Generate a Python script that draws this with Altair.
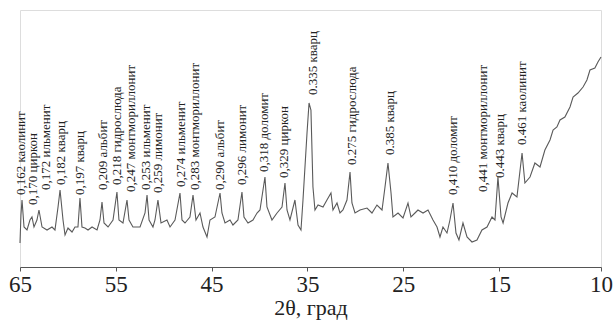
import altair as alt
import pandas as pd

# Diffractogram trace (2θ in degrees, intensity in arbitrary units)
two_theta = [
    65.00, 64.90, 64.79, 64.58, 64.27, 63.96, 63.75, 63.54, 63.23, 63.02,
    62.70, 62.18, 61.66, 61.35, 61.03, 60.82, 60.51, 60.30, 59.99, 59.57,
    59.26, 58.95, 58.74, 58.53, 58.22, 57.90, 57.48, 56.96, 56.65, 56.44,
    56.23, 55.81, 55.29, 54.88, 54.67, 54.25, 53.83, 53.62, 53.21, 52.47,
    51.95, 51.74, 51.53, 51.12,
    50.91, 50.60, 50.28, 49.66, 49.34, 48.82, 48.30, 48.09, 47.78, 47.26,
    46.94, 46.63, 46.21, 45.90, 45.48, 45.17, 44.65, 44.12, 43.92, 43.60,
    43.08, 42.77, 42.25, 41.83, 41.62, 41.20, 40.68, 40.26, 39.95, 39.43,
    39.22, 38.70, 38.17, 37.65, 37.34, 37.13, 36.82, 36.30, 35.98, 35.67,
    35.46, 35.04, 34.83, 34.63, 34.42, 34.21, 33.89, 33.37, 32.96, 32.54,
    32.33, 31.91, 31.60, 31.29, 30.87, 30.55, 30.35, 30.03, 29.51, 28.78,
    28.26, 27.74, 27.21, 26.90, 26.59, 26.27, 26.07, 25.54, 25.02, 24.50,
    24.19, 23.77, 23.46, 22.93, 22.41, 21.89, 21.47, 21.16, 20.85, 20.43,
    20.12, 19.80, 19.49, 19.18, 18.76, 18.34, 17.82, 17.30, 16.78, 16.25,
    15.73, 15.42, 15.11, 14.90, 14.80, 14.56, 14.36, 14.12, 13.87, 13.73,
    13.48, 13.24, 12.99, 12.75, 12.50, 12.35, 12.16, 12.01, 11.77, 11.52,
    11.37, 11.13, 10.88, 10.69, 10.54, 10.30, 10.15, 10.00,
]
intensity = [
    24, 52, 67, 40, 37, 47, 50, 40, 47, 57,
    40, 37, 40, 37, 60, 77, 47, 32, 39, 35,
    40, 40, 69, 40, 39, 37, 40, 37, 47, 65,
    44, 40, 47, 75, 47, 44, 67, 47, 40, 40,
    54, 72, 47, 40,
    47, 67, 44, 47, 40, 47, 74, 47, 44, 50,
    72, 47, 54, 40, 30, 47, 50, 74, 54, 44,
    47, 42, 47, 75, 50, 44, 47, 54, 57, 90,
    60, 47, 54, 60, 84, 57, 47, 67, 42, 37,
    67, 134, 164, 157, 80, 57, 62, 60, 67, 74,
    57, 64, 54, 57, 67, 95, 64, 54, 57, 59,
    54, 62, 57, 80, 104, 74, 50, 54, 49, 64,
    50, 54, 57, 54, 57, 47, 40, 30, 40, 34,
    47, 64, 34, 27, 44, 30, 25, 27, 37, 40,
    50, 47, 90, 50, 44, 64, 74, 70, 114, 84,
    90, 104, 100, 117, 127, 137, 140, 147, 150, 160,
    170, 174, 180, 187, 197, 199, 205, 210,
]

# Peak annotations: text, 2θ position, intensity at which the text starts
label_text = [
    "0,162 каолинит", "0,170 циркон", "0,172 ильменит", "0,182 кварц",
    "0,197 кварц", "0,209 альбит", "0,218 гидрослюда", "0,247 монтмориллонит",
    "0,253 ильменит", "0,259 лимонит", "0,274 ильменит", "0,283 монтмориллонит",
    "0,290 альбит", "0,296 лимонит", "0,318 доломит", "0,329 циркон",
    "0.335 кварц", "0.275 гидрослюда", "0.385 кварц", "0,410 доломит",
    "0,441 монтмориллонит", "0.443 кварц", "0.461 каолинит",
]
label_theta = [
    64.90, 63.64, 62.29, 60.72, 58.74, 56.34, 54.88, 53.41,
    51.85, 50.60, 48.19, 46.73, 44.12, 41.83, 39.53, 37.44,
    34.42, 30.35, 26.38, 19.80, 16.67, 14.95, 13.87,
]
label_level = [
    72, 62, 77, 82, 72, 77, 82, 75,
    77, 74, 80, 77, 77, 82, 95, 89,
    172, 102, 112, 72, 75, 89, 122,
]

tick_values = [65, 55, 45, 35, 25, 15, 10]

W = 581
H = 257
SERIF = "'Liberation Serif', 'Times New Roman', Times, serif"

trace = pd.DataFrame({"theta": two_theta, "I": intensity})
labels = pd.DataFrame({"text": label_text, "theta": label_theta, "I": label_level})

xscale = alt.Scale(domain=[65, 15, 10], range=[0, W * 479 / 581, W], nice=False, zero=False)
yscale = alt.Scale(domain=[0, H], nice=False, zero=True)

xaxis = alt.Axis(
    values=tick_values, format="d", grid=False, labelFlush=False, labelOverlap=False,
    labelFont=SERIF, labelFontSize=23, labelColor="#222", labelPadding=2,
    title="2θ, град", titleFont=SERIF, titleFontSize=22, titleFontWeight="normal",
    titleColor="#222", titlePadding=1,
    domainColor="#555", tickColor="#555", tickSize=4,
)

line = alt.Chart(trace).mark_line(color="#5a5a5a", strokeWidth=1.1).encode(
    x=alt.X("theta:Q", scale=xscale, axis=xaxis),
    y=alt.Y("I:Q", scale=yscale, axis=None),
    order=alt.Order("theta:Q", sort="descending"),
)

text = alt.Chart(labels).mark_text(
    angle=270, align="left", baseline="middle",
    font=SERIF, fontSize=13, color="#222",
).encode(
    x=alt.X("theta:Q", scale=xscale),
    y=alt.Y("I:Q", scale=yscale),
    text="text:N",
)

chart = (line + text).properties(
    width=W, height=H, autosize="none",
    padding={"left": 20, "top": 10, "right": 14, "bottom": 53},
).configure_view(stroke=None).configure(background="white")

chart.save("out.html", embed_options={"renderer": "svg", "actions": False})
